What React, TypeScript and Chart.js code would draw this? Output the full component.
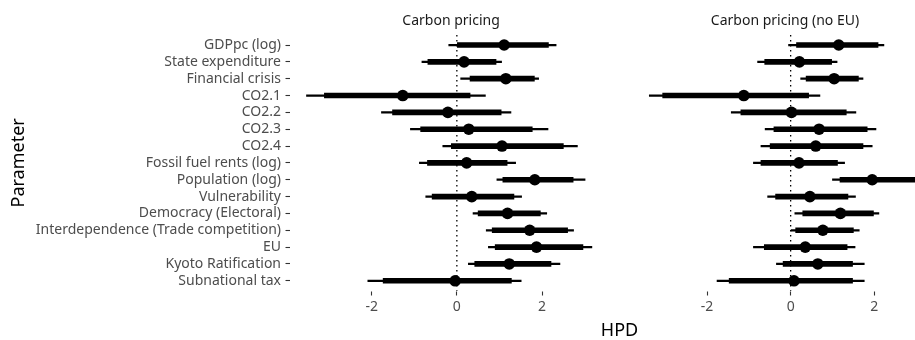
import React, { useEffect, useRef } from "react";
import { Chart, registerables } from "chart.js";

Chart.register(...registerables);

const PARAMETERS = [
  "GDPpc (log)",
  "State expenditure",
  "Financial crisis",
  "CO2.1",
  "CO2.2",
  "CO2.3",
  "CO2.4",
  "Fossil fuel rents (log)",
  "Population (log)",
  "Vulnerability",
  "Democracy (Electoral)",
  "Interdependence (Trade competition)",
  "EU",
  "Kyoto Ratification",
  "Subnational tax",
];

const PANEL_TITLES = ["Carbon pricing", "Carbon pricing (no EU)"];
const X_TICKS = [-2, 0, 2];
const X_MIN = -3.87;
const X_MAX = 3.6;

// Panel 1: Carbon pricing
const p1OuterLo = [-0.19, -0.82, 0.09, -3.53, -1.77, -1.09, -0.33, -0.88, 0.94, -0.73, 0.38, 0.69, 0.74, 0.27, -2.09];
const p1InnerLo = [0.0, -0.68, 0.31, -3.11, -1.51, -0.85, -0.13, -0.69, 1.08, -0.58, 0.5, 0.83, 0.9, 0.42, -1.73];
const p1Mid = [1.11, 0.17, 1.15, -1.27, -0.21, 0.28, 1.06, 0.23, 1.83, 0.35, 1.19, 1.71, 1.87, 1.23, -0.04];
const p1InnerHi = [2.15, 0.92, 1.82, 0.31, 1.04, 1.77, 2.5, 1.18, 2.73, 1.34, 1.96, 2.6, 2.96, 2.21, 1.28];
const p1OuterHi = [2.33, 1.05, 1.92, 0.67, 1.27, 2.14, 2.83, 1.38, 3.01, 1.52, 2.11, 2.74, 3.17, 2.42, 1.51];

// Panel 2: Carbon pricing (no EU)
const p2OuterLo = [-0.05, -0.79, 0.24, -3.38, -1.42, -0.61, -0.71, -0.89, 1.0, -0.55, 0.1, 0.0, -0.89, -0.34, -1.76];
const p2InnerLo = [0.14, -0.62, 0.37, -3.06, -1.19, -0.4, -0.49, -0.71, 1.18, -0.36, 0.29, 0.12, -0.63, -0.18, -1.47];
const p2Mid = [1.15, 0.21, 1.04, -1.12, 0.02, 0.68, 0.6, 0.2, 1.95, 0.46, 1.19, 0.77, 0.35, 0.65, 0.08];
const p2InnerHi = [2.09, 0.98, 1.62, 0.43, 1.33, 1.83, 1.73, 1.12, 3.1, 1.37, 1.98, 1.5, 1.35, 1.48, 1.48];
const p2OuterHi = [2.23, 1.11, 1.73, 0.7, 1.56, 2.04, 1.95, 1.29, 3.35, 1.55, 2.11, 1.64, 1.54, 1.76, 1.76];

const FONT = "'Noto Sans', 'Open Sans', sans-serif";

const zeroLinePlugin = {
  id: "zeroLine",
  beforeDatasetsDraw(chart: any) {
    const { ctx, chartArea, scales } = chart;
    const x = scales.x.getPixelForValue(0);
    ctx.save();
    ctx.strokeStyle = "#000";
    ctx.lineWidth = 1.3;
    ctx.setLineDash([1.5, 3.5]);
    ctx.beginPath();
    ctx.moveTo(x, chartArea.top - 1.6);
    ctx.lineTo(x, chartArea.bottom + 1.6);
    ctx.stroke();
    ctx.restore();
  },
};

function makeConfig(
  title: string,
  outerLo: number[],
  innerLo: number[],
  mid: number[],
  innerHi: number[],
  outerHi: number[],
  showY: boolean
): any {
  return {
    type: "bar",
    data: {
      labels: PARAMETERS,
      datasets: [
        {
          type: "line",
          data: PARAMETERS.map((p, i) => ({ x: mid[i], y: p })),
          showLine: false,
          pointRadius: 5.8,
          pointHoverRadius: 5.8,
          pointBackgroundColor: "#000",
          pointBorderWidth: 0,
          order: 0,
        },
        {
          data: PARAMETERS.map((_, i) => [innerLo[i], innerHi[i]]),
          backgroundColor: "#000",
          barThickness: 5,
          grouped: false,
          borderWidth: 0,
          order: 1,
        },
        {
          data: PARAMETERS.map((_, i) => [outerLo[i], outerHi[i]]),
          backgroundColor: "#000",
          barThickness: 1.6,
          grouped: false,
          borderWidth: 0,
          order: 2,
        },
      ],
    },
    options: {
      indexAxis: "y",
      responsive: false,
      animation: false,
      devicePixelRatio: 1,
      events: [],
      layout: { padding: 0 },
      plugins: {
        legend: { display: false },
        tooltip: { enabled: false },
        title: {
          display: true,
          text: title,
          fullSize: false,
          color: "#1a1a1a",
          font: { family: FONT, size: 14, weight: "normal", lineHeight: 1.2 },
          padding: { top: 12.6, bottom: 7.2 },
        },
      },
      scales: {
        x: {
          type: "linear",
          min: X_MIN,
          max: X_MAX,
          afterBuildTicks: (s: any) => {
            s.ticks = X_TICKS.map((v) => ({ value: v }));
          },
          afterFit: (s: any) => {
            s.height = 50.8;
          },
          border: { display: false },
          grid: {
            display: true,
            drawOnChartArea: false,
            drawTicks: true,
            tickLength: 6.5,
            tickColor: "#333",
            tickWidth: 1.1,
            tickBorderDash: [0, 2.5, 4, 20],
          },
          ticks: {
            color: "#4d4d4d",
            padding: 2.6,
            font: { family: FONT, size: 14 },
            callback: (v: any) => String(v),
          },
        },
        y: showY
          ? {
              type: "category",
              offset: true,
              afterFit: (s: any) => {
                s.width = 292;
              },
              border: { display: false },
              grid: {
                display: true,
                offset: false,
                drawOnChartArea: false,
                drawTicks: true,
                tickLength: 6.5,
                tickColor: "#333",
                tickWidth: 1.1,
                tickBorderDash: [4.5, 20],
              },
              ticks: {
                autoSkip: false,
                color: "#4d4d4d",
                padding: 4.5,
                font: { family: FONT, size: 14 },
              },
              title: {
                display: true,
                text: "Parameter",
                color: "#000",
                font: { family: FONT, size: 18, lineHeight: 1.2 },
                padding: { top: 8.2, bottom: 0 },
              },
            }
          : {
              type: "category",
              offset: true,
              display: false,
            },
      },
    },
    plugins: [zeroLinePlugin],
  };
}

function Panel(props: {
  left: number;
  width: number;
  title: string;
  outerLo: number[];
  innerLo: number[];
  mid: number[];
  innerHi: number[];
  outerHi: number[];
  showY: boolean;
}) {
  const ref = useRef<HTMLCanvasElement | null>(null);
  useEffect(() => {
    if (!ref.current) return;
    const chart = new Chart(
      ref.current,
      makeConfig(props.title, props.outerLo, props.innerLo, props.mid, props.innerHi, props.outerHi, props.showY)
    );
    return () => chart.destroy();
  }, []);
  return (
    <canvas
      ref={ref}
      width={props.width}
      height={340}
      style={{ position: "absolute", left: props.left, top: 0, width: props.width, height: 340 }}
    />
  );
}

export default function App() {
  return (
    <div
      style={{
        position: "absolute",
        left: 0,
        top: 0,
        width: 915,
        height: 340,
        overflow: "hidden",
        background: "#fff",
      }}
    >
      <Panel
        left={0}
        width={616}
        title={PANEL_TITLES[0]}
        outerLo={p1OuterLo}
        innerLo={p1InnerLo}
        mid={p1Mid}
        innerHi={p1InnerHi}
        outerHi={p1OuterHi}
        showY={true}
      />
      <Panel
        left={623}
        width={324}
        title={PANEL_TITLES[1]}
        outerLo={p2OuterLo}
        innerLo={p2InnerLo}
        mid={p2Mid}
        innerHi={p2InnerHi}
        outerHi={p2OuterHi}
        showY={false}
      />
      <div
        style={{
          position: "absolute",
          left: 569.5,
          width: 100,
          top: 318.5,
          lineHeight: "20px",
          textAlign: "center",
          fontFamily: FONT,
          fontSize: 18,
          color: "#000",
        }}
      >
        HPD
      </div>
    </div>
  );
}
